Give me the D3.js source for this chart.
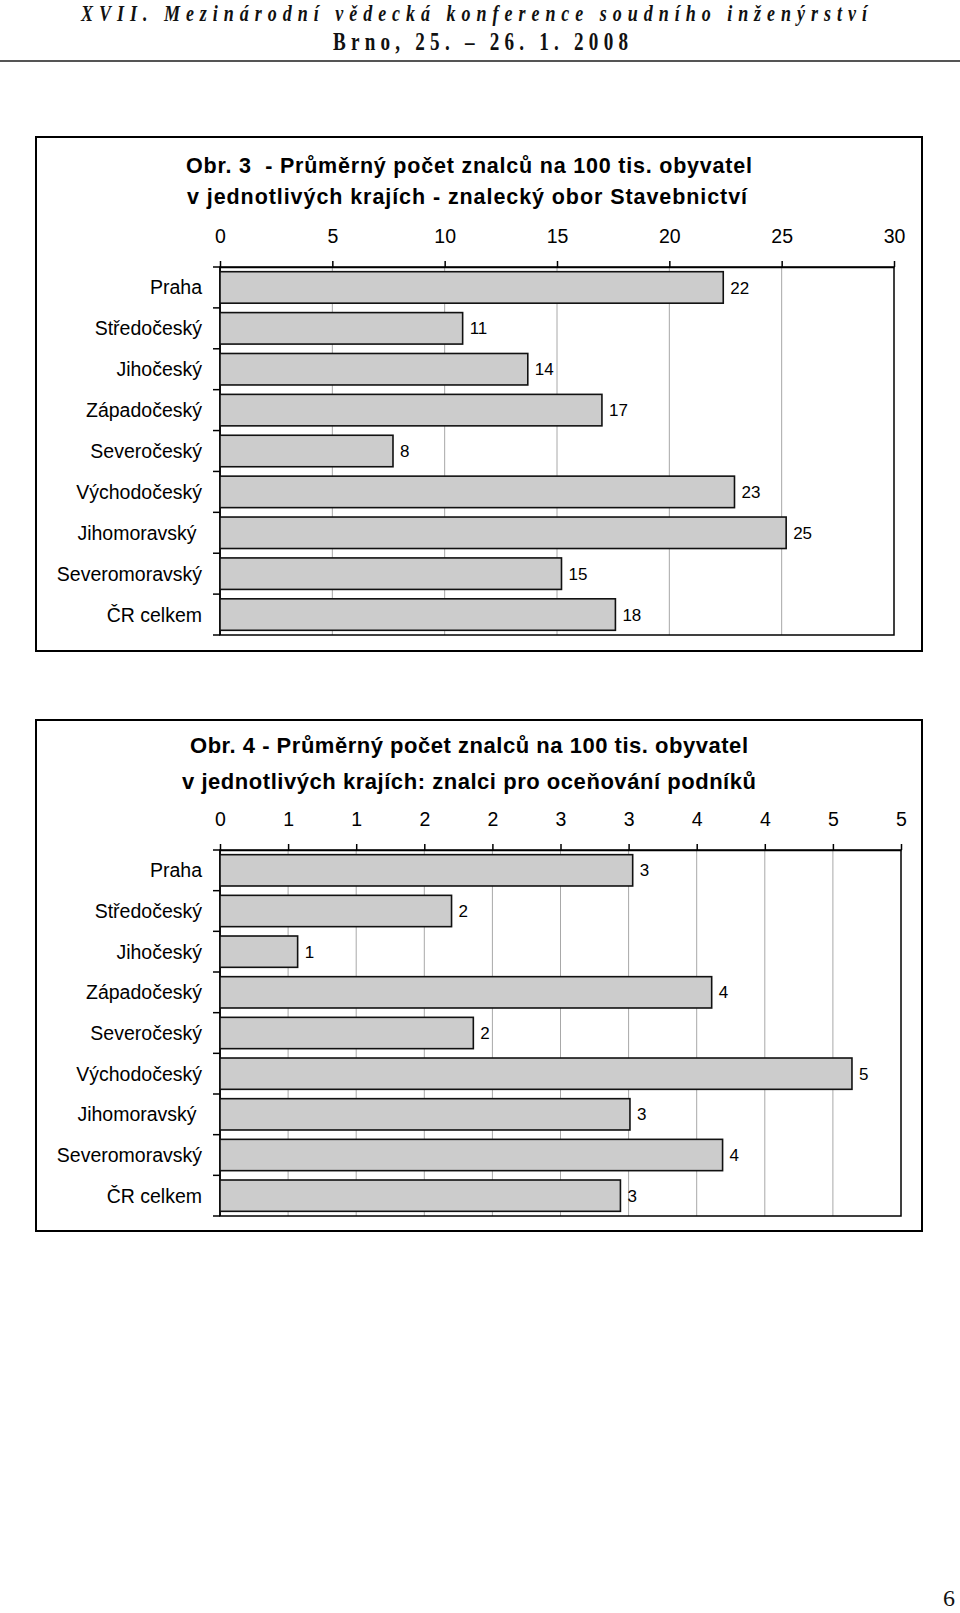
<!DOCTYPE html>
<html>
<head>
<meta charset="utf-8">
<script src="https://cdn.jsdelivr.net/npm/d3@7"></script>
<style>
  html, body { margin: 0; padding: 0; background: #fff; }
  svg { display: block; }
</style>
</head>
<body>
<svg id="page" width="960" height="1613"></svg>
<script>
// ---- data ----
const categories = ["Praha", "Středočeský", "Jihočeský", "Západočeský", "Severočeský",
  "Východočeský", "Jihomoravský ", "Severomoravský", "ČR celkem"];

const stavebnictvi = [22.4, 10.8, 13.7, 17.0, 7.7, 22.9, 25.2, 15.2, 17.6];
const podniky = [3.03, 1.70, 0.57, 3.61, 1.86, 4.64, 3.01, 3.69, 2.94];

const ticks1 = [0, 5, 10, 15, 20, 25, 30];
const tickLabels1 = ["0", "5", "10", "15", "20", "25", "30"];
const ticks2 = [0, 0.5, 1, 1.5, 2, 2.5, 3, 3.5, 4, 4.5, 5];
const tickLabels2 = ["0", "1", "1", "2", "2", "3", "3", "4", "4", "5", "5"];

const title1 = ["Obr. 3  - Průměrný počet znalců na 100 tis. obyvatel",
  "v jednotlivých krajích - znalecký obor Stavebnictví"];
const title2 = ["Obr. 4 - Průměrný počet znalců na 100 tis. obyvatel",
  "v jednotlivých krajích: znalci pro oceňování podníků"];

const header1 = "XVII. Mezinárodní vědecká konference soudního inženýrství";
const header2 = "Brno, 25. – 26. 1. 2008";
const pageNo = "6";

// ---- drawing ----
const svg = d3.select("#page");
svg.append("rect").attr("width", 960).attr("height", 1613).attr("fill", "#fff");

// header (condensed serif)
const sx = 0.75;
svg.append("text")
  .attr("transform", `scale(${sx},1)`)
  .attr("x", 81 / sx).attr("y", 21.5)
  .attr("textLength", 786 / sx).attr("lengthAdjust", "spacing")
  .style("font-family", "'Liberation Serif', 'DejaVu Serif', serif")
  .style("font-weight", "bold").style("font-style", "italic")
  .style("font-size", "24px").attr("fill", "#111")
  .text(header1);
svg.append("text")
  .attr("transform", `scale(${sx},1)`)
  .attr("x", 333 / sx).attr("y", 50)
  .attr("textLength", 295 / sx).attr("lengthAdjust", "spacing")
  .style("font-family", "'Liberation Serif', 'DejaVu Serif', serif")
  .style("font-weight", "bold")
  .style("font-size", "25.5px").attr("fill", "#111")
  .text(header2);
svg.append("line")
  .attr("x1", 0).attr("x2", 960).attr("y1", 61).attr("y2", 61)
  .attr("stroke", "#555").attr("stroke-width", 2);

// page number
svg.append("text")
  .attr("x", 949).attr("y", 1606).attr("text-anchor", "middle")
  .style("font-family", "'Liberation Serif', serif")
  .style("font-size", "24px").attr("fill", "#111")
  .text(pageNo);

function drawChart(cfg) {
  const g = svg.append("g");
  // outer box
  g.append("rect")
    .attr("x", cfg.box[0]).attr("y", cfg.box[1])
    .attr("width", cfg.box[2]).attr("height", cfg.box[3])
    .attr("fill", "#fff").attr("stroke", "#000").attr("stroke-width", 2);

  // title
  cfg.title.forEach((t, i) => {
    g.append("text")
      .attr("x", cfg.titleX[i]).attr("y", cfg.titleY[i])
      .attr("textLength", cfg.titleW[i]).attr("lengthAdjust", "spacing")
      .style("font-family", "'Liberation Sans', Arial, sans-serif")
      .style("font-weight", "bold").style("font-size", cfg.titleSize + "px")
      .attr("fill", "#000")
      .style("white-space", "pre")
      .text(t);
  });

  const x = d3.scaleLinear().domain(cfg.domain).range([cfg.left, cfg.right]);
  const y = d3.scaleBand().domain(categories).range([cfg.top, cfg.bottom])
    .paddingInner(0.23).paddingOuter(0.115);

  // gridlines
  g.selectAll(".grid").data(cfg.ticks.slice(1, -1)).join("line")
    .attr("x1", d => x(d)).attr("x2", d => x(d))
    .attr("y1", cfg.top).attr("y2", cfg.bottom)
    .attr("stroke", "#a8a8a8").attr("stroke-width", 1);

  // plot border
  g.append("rect")
    .attr("x", cfg.left).attr("y", cfg.top)
    .attr("width", cfg.right - cfg.left).attr("height", cfg.bottom - cfg.top)
    .attr("fill", "none").attr("stroke", "#000").attr("stroke-width", 1.5);

  // top axis
  const axisTop = d3.axisTop(x).tickValues(cfg.ticks)
    .tickFormat((d, i) => cfg.tickLabels[i])
    .tickSizeInner(6).tickSizeOuter(0).tickPadding(18);
  const ax = g.append("g").attr("transform", `translate(0,${cfg.top})`).call(axisTop);
  ax.select(".domain").attr("stroke", "#000").attr("stroke-width", 1.5);
  ax.selectAll(".tick line").attr("stroke", "#000").attr("stroke-width", 1.5);
  ax.selectAll(".tick text")
    .style("font-family", "'Liberation Sans', Arial, sans-serif")
    .style("font-size", "19.5px").attr("fill", "#000");

  // left axis: category ticks at band boundaries
  const step = y.step();
  const bounds = d3.range(categories.length + 1).map(i => cfg.top + i * step);
  g.selectAll(".ltick").data(bounds).join("line")
    .attr("x1", cfg.left - 7).attr("x2", cfg.left)
    .attr("y1", d => d).attr("y2", d => d)
    .attr("stroke", "#000").attr("stroke-width", 1.5);
  g.append("line")
    .attr("x1", cfg.left).attr("x2", cfg.left)
    .attr("y1", cfg.top).attr("y2", cfg.bottom)
    .attr("stroke", "#000").attr("stroke-width", 1.5);

  g.selectAll(".cat").data(categories).join("text")
    .attr("x", cfg.left - 18)
    .attr("y", d => y(d) + y.bandwidth() / 2)
    .attr("dy", "0.36em")
    .attr("text-anchor", "end")
    .style("white-space", "pre")
    .style("font-family", "'Liberation Sans', Arial, sans-serif")
    .style("font-size", "19.5px").attr("fill", "#000")
    .text(d => d);

  // bars
  g.selectAll(".bar").data(cfg.values).join("rect")
    .attr("x", x(0))
    .attr("y", (d, i) => y(categories[i]))
    .attr("width", d => x(d) - x(0))
    .attr("height", y.bandwidth())
    .attr("fill", "#cccccc").attr("stroke", "#111").attr("stroke-width", 1.6);

  // value labels
  const fmt = d3.format(".0f");
  g.selectAll(".val").data(cfg.values).join("text")
    .attr("x", d => x(d) + 7)
    .attr("y", (d, i) => y(categories[i]) + y.bandwidth() / 2)
    .attr("dy", "0.36em")
    .style("font-family", "'Liberation Sans', Arial, sans-serif")
    .style("font-size", "17px").attr("fill", "#000")
    .text(d => fmt(d));
}

drawChart({
  box: [36, 137, 886, 514],
  title: title1, titleX: [186, 187], titleW: [566, 560], titleY: [173, 204], titleSize: 21.5,
  domain: [0, 30], ticks: ticks1, tickLabels: tickLabels1,
  left: 220, right: 894, top: 267, bottom: 635,
  values: stavebnictvi
});

drawChart({
  box: [36, 720, 886, 511],
  title: title2, titleX: [190, 182], titleW: [558, 574], titleY: [753, 789], titleSize: 22,
  domain: [0, 5], ticks: ticks2, tickLabels: tickLabels2,
  left: 220, right: 901, top: 850, bottom: 1216,
  values: podniky
});
</script>
</body>
</html>
